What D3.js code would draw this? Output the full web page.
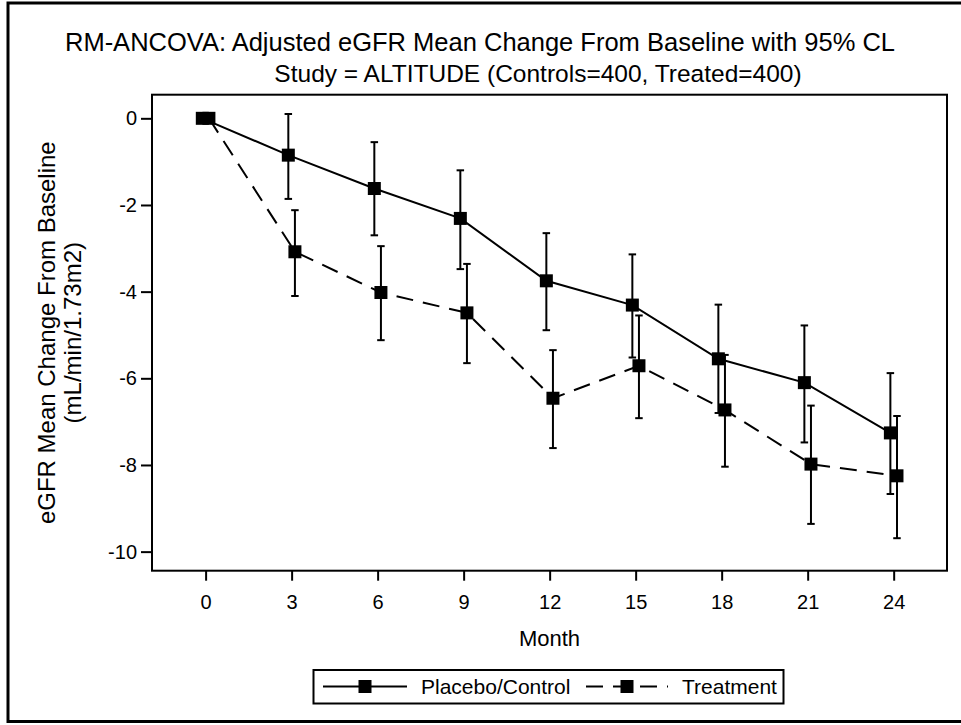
<!DOCTYPE html>
<html>
<head>
<meta charset="utf-8">
<script src="https://cdn.jsdelivr.net/npm/d3@7"></script>
<style>
  body { margin: 0; background: #fff; }
  text { font-family: "Liberation Sans", Arial, sans-serif; fill: #000; }
</style>
</head>
<body>
<script>
// data
var months = [0, 3, 6, 9, 12, 15, 18, 21, 24];
var placeboMean  = [0, -0.85, -1.62, -2.31, -3.75, -4.31, -5.55, -6.10, -7.26];
var placeboLower = [null, -1.86, -2.70, -3.48, -4.89, -5.52, -6.80, -7.48, -8.67];
var placeboUpper = [null, 0.10, -0.55, -1.20, -2.65, -3.14, -4.30, -4.78, -5.88];
var treatMean  = [0, -3.08, -4.02, -4.49, -6.46, -5.71, -6.73, -7.98, -8.25];
var treatLower = [null, -4.10, -5.12, -5.65, -7.61, -6.92, -8.04, -9.36, -9.69];
var treatUpper = [null, -2.12, -2.95, -3.36, -5.35, -4.55, -5.46, -6.63, -6.87];
var yTicks = [0, -2, -4, -6, -8, -10];
var seriesNames = ["Placebo/Control", "Treatment"];

var w = 961, h = 725;
var plot = {left: 152, right: 947, top: 94.7, bottom: 570.7};

var svg = d3.select("body").append("svg")
    .attr("width", w)
    .attr("height", h);

// outer border
svg.append("rect")
    .attr("x", 8).attr("y", 3)
    .attr("width", 970).attr("height", 718.5)
    .attr("fill", "none")
    .attr("stroke", "#000")
    .attr("stroke-width", 3);

var x = d3.scaleLinear().domain([-1.87, 25.86]).range([plot.left, plot.right]);
var y = d3.scaleLinear().domain([-10.44, 0.545]).range([plot.bottom, plot.top]);

// titles
svg.append("text")
    .attr("x", 480).attr("y", 51)
    .attr("text-anchor", "middle")
    .style("font-size", "25.5px")
    .text("RM-ANCOVA: Adjusted eGFR Mean Change From Baseline with 95% CL");
svg.append("text")
    .attr("x", 538).attr("y", 82)
    .attr("text-anchor", "middle")
    .style("font-size", "24.5px")
    .text("Study = ALTITUDE (Controls=400, Treated=400)");

// axes
var fmt = d => String(d);
var xAxis = svg.append("g")
    .attr("transform", "translate(0," + plot.bottom + ")")
    .call(d3.axisBottom(x).tickValues(months).tickFormat(fmt).tickSize(10).tickSizeOuter(0).tickPadding(14));
var yAxis = svg.append("g")
    .attr("transform", "translate(" + plot.left + ",0)")
    .call(d3.axisLeft(y).tickValues(yTicks).tickFormat(fmt).tickSize(11).tickSizeOuter(0).tickPadding(4));

[xAxis, yAxis].forEach(function(g) {
    g.select(".domain").remove();
    g.selectAll(".tick line").attr("stroke", "#000").attr("stroke-width", 2);
    g.selectAll(".tick text")
        .style("font-size", "20px")
        .style("font-family", "'Liberation Sans', Arial, sans-serif");
});

// frame
svg.append("rect")
    .attr("x", plot.left).attr("y", plot.top)
    .attr("width", plot.right - plot.left)
    .attr("height", plot.bottom - plot.top)
    .attr("fill", "none")
    .attr("stroke", "#000")
    .attr("stroke-width", 2);

// axis labels
svg.append("text")
    .attr("x", (plot.left + plot.right) / 2).attr("y", 646)
    .attr("text-anchor", "middle")
    .style("font-size", "22px")
    .text("Month");

var cy = (plot.top + plot.bottom) / 2;
svg.append("text")
    .attr("transform", "translate(55," + cy + ") rotate(-90)")
    .attr("text-anchor", "middle")
    .style("font-size", "24px")
    .text("eGFR Mean Change From Baseline");
svg.append("text")
    .attr("transform", "translate(80.5," + cy + ") rotate(-90)")
    .attr("text-anchor", "middle")
    .style("font-size", "24px")
    .text("(mL/min/1.73m2)");

// series
var series = [
    {name: seriesNames[0], mean: placeboMean, lo: placeboLower, hi: placeboUpper, shift: -3.3, dash: null},
    {name: seriesNames[1], mean: treatMean, lo: treatLower, hi: treatUpper, shift: 3.3, dash: "17,10"}
];

var line = d3.line()
    .x(d => x(d.m) + d.shift)
    .y(d => y(d.v));

var markerSize = 13, capW = 7.5;

series.forEach(function(s) {
    var pts = months.map((m, i) => ({m: m, v: s.mean[i], lo: s.lo[i], hi: s.hi[i], shift: s.shift}));
    var g = svg.append("g");

    // error bars
    var bars = pts.filter(d => d.lo != null);
    g.selectAll(".bar").data(bars).enter().append("line")
        .attr("x1", d => x(d.m) + d.shift).attr("x2", d => x(d.m) + d.shift)
        .attr("y1", d => y(d.lo)).attr("y2", d => y(d.hi))
        .attr("stroke", "#000").attr("stroke-width", 2);
    ["lo", "hi"].forEach(function(k) {
        g.selectAll(".cap-" + k).data(bars).enter().append("line")
            .attr("x1", d => x(d.m) + d.shift - capW / 2)
            .attr("x2", d => x(d.m) + d.shift + capW / 2)
            .attr("y1", d => y(d[k])).attr("y2", d => y(d[k]))
            .attr("stroke", "#000").attr("stroke-width", 2);
    });

    g.append("path")
        .datum(pts)
        .attr("d", line)
        .attr("fill", "none")
        .attr("stroke", "#000")
        .attr("stroke-width", 2)
        .attr("stroke-dasharray", s.dash);

    g.selectAll(".pt").data(pts).enter().append("rect")
        .attr("x", d => x(d.m) + d.shift - markerSize / 2)
        .attr("y", d => y(d.v) - markerSize / 2)
        .attr("width", markerSize).attr("height", markerSize)
        .attr("fill", "#000");
});

// legend
var leg = svg.append("g");
leg.append("rect")
    .attr("x", 313.5).attr("y", 670)
    .attr("width", 470).attr("height", 33.5)
    .attr("fill", "#fff")
    .attr("stroke", "#000")
    .attr("stroke-width", 2);

var legItems = [
    {name: seriesNames[0], x0: 323, x1: 407, tx: 421, dash: null},
    {name: seriesNames[1], x0: 586, x1: 668, tx: 682, dash: "17,10"}
];
legItems.forEach(function(it) {
    var ly = 686.5;
    leg.append("line")
        .attr("x1", it.x0).attr("x2", it.x1)
        .attr("y1", ly).attr("y2", ly)
        .attr("stroke", "#000").attr("stroke-width", 2)
        .attr("stroke-dasharray", it.dash);
    leg.append("rect")
        .attr("x", (it.x0 + it.x1) / 2 - markerSize / 2)
        .attr("y", ly - markerSize / 2)
        .attr("width", markerSize).attr("height", markerSize)
        .attr("fill", "#000");
    leg.append("text")
        .attr("x", it.tx).attr("y", ly + 7.5)
        .style("font-size", "21px")
        .text(it.name);
});
</script>
</body>
</html>
